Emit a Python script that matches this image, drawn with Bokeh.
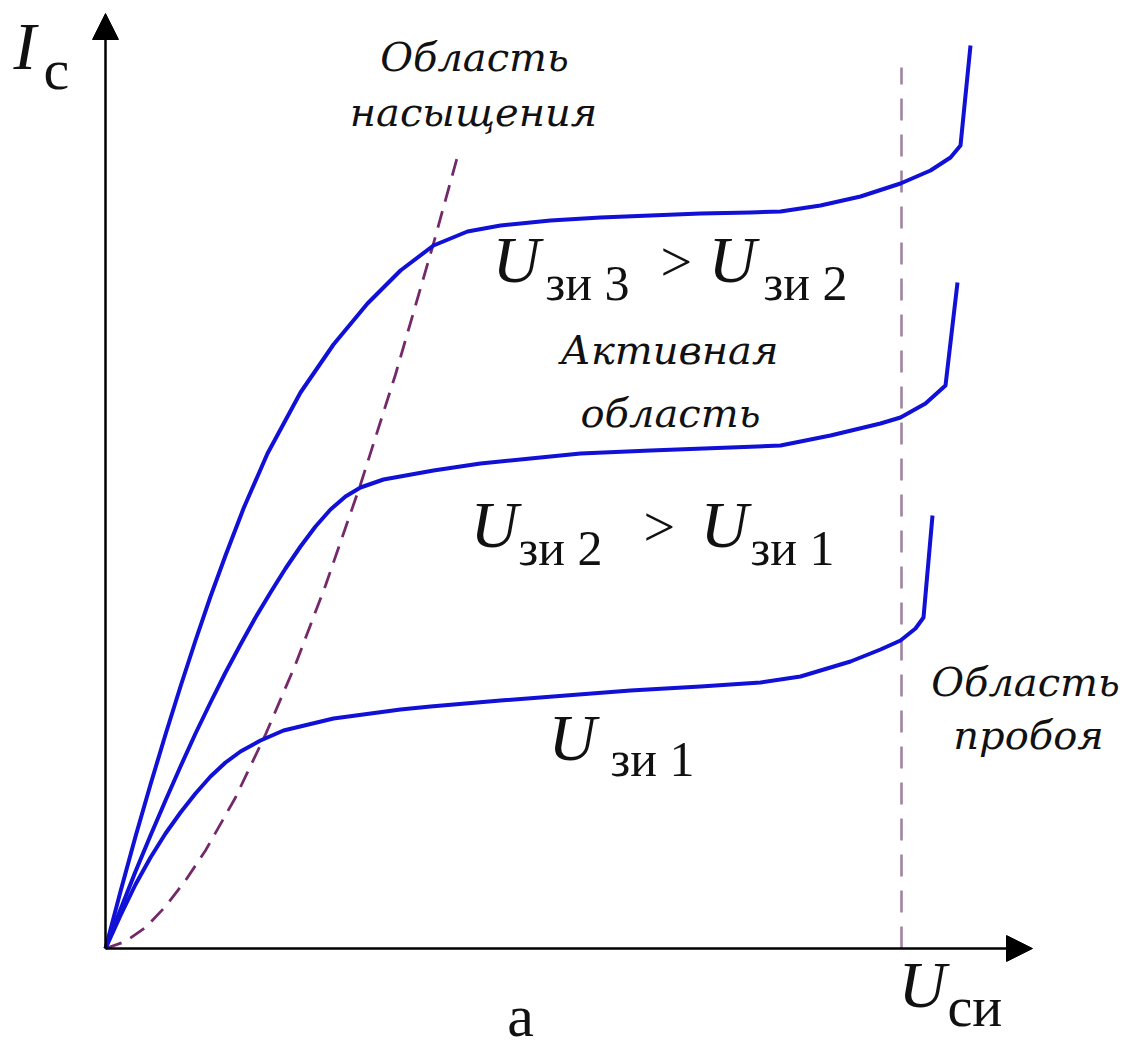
from bokeh.plotting import figure
from bokeh.models import Range1d, Arrow, NormalHead
from bokeh.core.properties import value
from bokeh.embed import file_html
from bokeh.resources import INLINE

# ---- data (U_si on x, I_c on y, arbitrary units) ----
u3 = [0, 0.15, 0.30, 0.45, 0.60, 0.75, 0.90, 1.05, 1.20, 1.38, 1.62, 1.95, 2.28, 2.62, 2.95, 3.28, 3.62, 3.95,
      4.45, 4.95, 5.45, 5.95, 6.45, 6.75, 7.15, 7.55, 7.95, 8.25, 8.45, 8.55, 8.65]
i3 = [0, 0.57, 1.12, 1.64, 2.14, 2.62, 3.08, 3.52, 3.93, 4.40, 4.95, 5.56, 6.04, 6.45, 6.78, 7.03, 7.17, 7.23,
      7.28, 7.31, 7.33, 7.35, 7.36, 7.37, 7.43, 7.52, 7.65, 7.78, 7.91, 8.03, 9.03]

u2 = [0, 0.15, 0.30, 0.45, 0.60, 0.75, 0.90, 1.05, 1.20, 1.35, 1.50, 1.65, 1.80, 1.95, 2.10, 2.25, 2.40, 2.55,
      2.78, 3.28, 3.75, 4.25, 4.75, 5.45, 6.25, 6.75, 7.25, 7.75, 7.95, 8.20, 8.40, 8.52]
i2 = [0, 0.39, 0.77, 1.13, 1.48, 1.82, 2.15, 2.46, 2.76, 3.04, 3.31, 3.56, 3.80, 4.02, 4.22, 4.39, 4.52, 4.61,
      4.69, 4.78, 4.85, 4.90, 4.95, 4.98, 5.01, 5.03, 5.13, 5.25, 5.31, 5.45, 5.63, 6.66]

u1 = [0, 0.15, 0.30, 0.45, 0.60, 0.75, 0.90, 1.05, 1.20, 1.35, 1.55, 1.78, 2.28, 2.95, 3.25, 3.95, 5.25, 5.95,
      6.55, 6.95, 7.45, 7.75, 7.95, 8.10, 8.18, 8.27]
i1 = [0, 0.33, 0.64, 0.91, 1.15, 1.36, 1.55, 1.72, 1.86, 1.97, 2.08, 2.18, 2.30, 2.39, 2.42, 2.48, 2.58, 2.62,
      2.66, 2.72, 2.87, 2.99, 3.08, 3.20, 3.31, 4.33]

u_sat = [0, 0.20, 0.40, 0.60, 0.80, 1.00, 1.30, 1.60, 1.90, 2.20, 2.55, 2.90, 3.28, 3.52]
i_sat = [0, 0.07, 0.21, 0.42, 0.68, 0.98, 1.51, 2.14, 2.84, 3.63, 4.64, 5.74, 7.05, 7.92]

u_break = [7.96, 7.96]
i_break = [0, 8.81]

axis_x_end = 9.27
axis_y_end = 9.35

BLUE = "#1010d6"
SERIF = value("Liberation Serif")
ITAL = value("DejaVu Serif")

p = figure(width=1130, height=1054, x_range=Range1d(-1.05, 10.25), y_range=Range1d(-1.06, 9.48),
           output_backend="svg", toolbar_location=None, min_border=0,
           x_axis_location=None, y_axis_location=None)
p.grid.visible = False
p.outline_line_color = None
p.background_fill_color = "white"

# axes with arrows
for xe, ye in ((0, axis_y_end), (axis_x_end, 0)):
    p.add_layout(Arrow(end=NormalHead(size=26, fill_color="black", line_color="black"),
                       x_start=0, y_start=0, x_end=xe, y_end=ye, line_width=2.5, line_color="black"))

# dashed lines
p.line(u_sat, i_sat, line_color="#74296a", line_width=2.8, line_dash="17 10")
p.line(u_break, i_break, line_color="#a283a2", line_width=2.6, line_dash="22 14")

# characteristic curves
for xs, ys in ((u1, i1), (u2, i2), (u3, i3)):
    p.line(xs, ys, line_color=BLUE, line_width=4, line_join="round")


def txt(x, y, s, size, style="normal", align="left", font=SERIF):
    off = -round(0.39 * size)
    p.text(x=[x], y=[y], text=[s], text_font=font, text_font_size=f"{size}px", text_font_style=style,
           text_align=align, text_baseline="alphabetic", text_color="#111111", y_offset=off)


# axis labels
txt(-0.92, 8.76, "I", 68, "italic")
txt(-0.62, 8.56, "с", 58)
txt(7.93, -0.62, "U", 66, "italic")
txt(8.42, -0.80, "си", 56)
txt(4.15, -0.90, "а", 60, align="center")

# region labels
txt(3.69, 8.76, "Область", 40, "italic", "center", ITAL)
txt(3.68, 8.21, "насыщения", 40, "italic", "center", ITAL)
txt(5.64, 5.83, "Активная", 40, "italic", "center", ITAL)
txt(5.65, 5.20, "область", 40, "italic", "center", ITAL)
txt(9.20, 2.51, "Область", 40, "italic", "center", ITAL)
txt(9.23, 1.98, "пробоя", 40, "italic", "center", ITAL)

# gate voltage labels
txt(3.87, 6.63, "U", 66, "italic")
txt(4.40, 6.46, "зи 3", 50)
txt(5.55, 6.65, ">", 56)
txt(6.03, 6.63, "U", 66, "italic")
txt(6.58, 6.46, "зи 2", 50)

txt(3.65, 3.98, "U", 66, "italic")
txt(4.13, 3.81, "зи 2", 50)
txt(5.38, 4.00, ">", 56)
txt(5.95, 3.98, "U", 66, "italic")
txt(6.45, 3.81, "зи 1", 50)

txt(4.43, 1.85, "U", 66, "italic")
txt(5.05, 1.70, "зи 1", 50)

open("out.html", "w").write(file_html(p, INLINE))
